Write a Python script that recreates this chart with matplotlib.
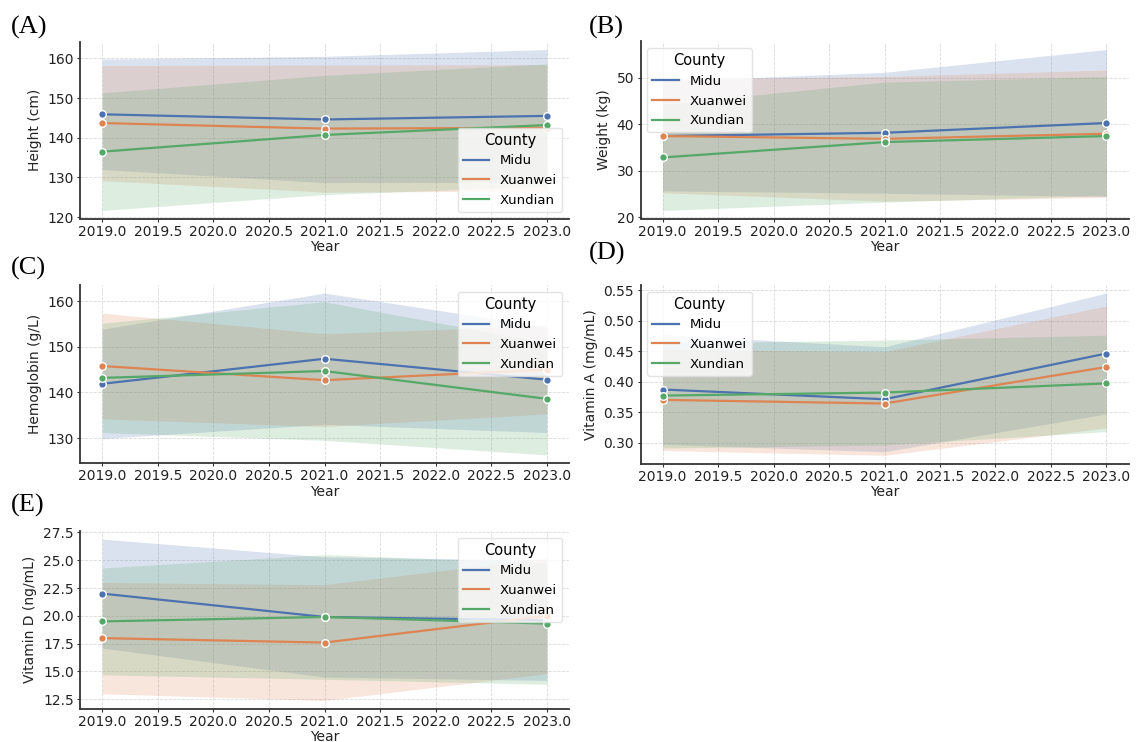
import numpy as np
import matplotlib
matplotlib.use("Agg")
import matplotlib.pyplot as plt
from matplotlib.ticker import FormatStrFormatter, MultipleLocator

years = [2019, 2021, 2023]
counties = ["Midu", "Xuanwei", "Xundian"]
colors = ["#4c72b0", "#dd8452", "#55a868"]

# mean and sd per county, one row per county
height_mean = [[145.9, 144.6, 145.5], [143.7, 142.3, 142.5], [136.5, 140.7, 143.2]]
height_sd = [[13.9, 15.9, 16.7], [14.5, 16.0, 15.9], [14.8, 15.0, 15.4]]

weight_mean = [[37.5, 38.2, 40.3], [37.5, 36.9, 38.0], [32.9, 36.2, 37.5]]
weight_sd = [[11.8, 13.0, 15.8], [12.2, 13.4, 13.7], [11.4, 12.9, 12.8]]

hb_mean = [[141.9, 147.4, 142.8], [145.8, 142.7, 145.0], [143.2, 144.7, 138.6]]
hb_sd = [[12.0, 14.4, 11.6], [11.6, 10.2, 9.7], [12.0, 15.2, 12.3]]

vita_mean = [[0.387, 0.371, 0.446], [0.370, 0.364, 0.424], [0.377, 0.382, 0.397]]
vita_sd = [[0.090, 0.086, 0.099], [0.083, 0.085, 0.100], [0.086, 0.086, 0.079]]

vitd_mean = [[22.0, 19.9, 19.6], [18.0, 17.6, 20.0], [19.5, 19.9, 19.3]]
vitd_sd = [[4.9, 5.4, 5.4], [5.0, 5.2, 5.2], [4.8, 5.6, 5.45]]

panels = [
    ("(A)", "Height (cm)", height_mean, height_sd, "lower right", None),
    ("(B)", "Weight (kg)", weight_mean, weight_sd, "upper left", None),
    ("(C)", "Hemoglobin (g/L)", hb_mean, hb_sd, "upper right", None),
    ("(D)", "Vitamin A (mg/mL)", vita_mean, vita_sd, "upper left", None),
    ("(E)", "Vitamin D (ng/mL)", vitd_mean, vitd_sd, "upper right", 2.5),
]

W, H = 1136, 742
# axes boxes in pixels: left, top, width, height
boxes = [(80, 41.5, 489, 177), (640.5, 41.5, 488, 177),
         (80, 285, 489, 178), (640.5, 285, 488, 178.5),
         (80, 531, 489, 177.5)]
label_pos = [(11, 27), (589, 27), (11, 268), (589, 253), (11, 505)]

fig = plt.figure(figsize=(W / 100, H / 100), dpi=100)

for (tag, ylab, means, sds, loc, ystep), (l, t, w, h), (lx, ly) in zip(panels, boxes, label_pos):
    ax = fig.add_axes([l / W, 1 - (t + h) / H, w / W, h / H])
    for name, col, m, s in zip(counties, colors, means, sds):
        m = np.array(m)
        s = np.array(s)
        ax.fill_between(years, m - s, m + s, color=col, alpha=0.2, linewidth=0)
        ax.plot(years, m, color=col, lw=1.6, marker="o", ms=5.5,
                mec="white", mew=1, label=name)
    ax.grid(True, ls="--", color="#d9d9d9", lw=0.6)
    ax.set_axisbelow(True)
    for sp in ["top", "right"]:
        ax.spines[sp].set_visible(False)
    for sp in ["left", "bottom"]:
        ax.spines[sp].set_color("#333333")
        ax.spines[sp].set_linewidth(1.3)
    ax.tick_params(labelsize=10, length=2.5, pad=2, color="#333333", labelcolor="#222222")
    ax.ticklabel_format(useOffset=False)
    ax.xaxis.set_major_formatter(FormatStrFormatter("%.1f"))
    if ystep:
        ax.yaxis.set_major_locator(MultipleLocator(ystep))
        ax.yaxis.set_major_formatter(FormatStrFormatter("%.1f"))
    ax.set_xlabel("Year", fontsize=10, labelpad=1, color="#222222")
    ax.set_ylabel(ylab, fontsize=10, labelpad=4, color="#222222")
    leg = ax.legend(title="County", loc=loc, fontsize=9.5, title_fontsize=10.5,
                    framealpha=0.8, edgecolor="#dddddd")
    for line in leg.get_lines():
        line.set_marker("")
    fig.text(lx / W, 1 - ly / H, tag, family="Liberation Serif", fontsize=19,
             va="center", ha="left")

fig.savefig("out.png", dpi=100)
